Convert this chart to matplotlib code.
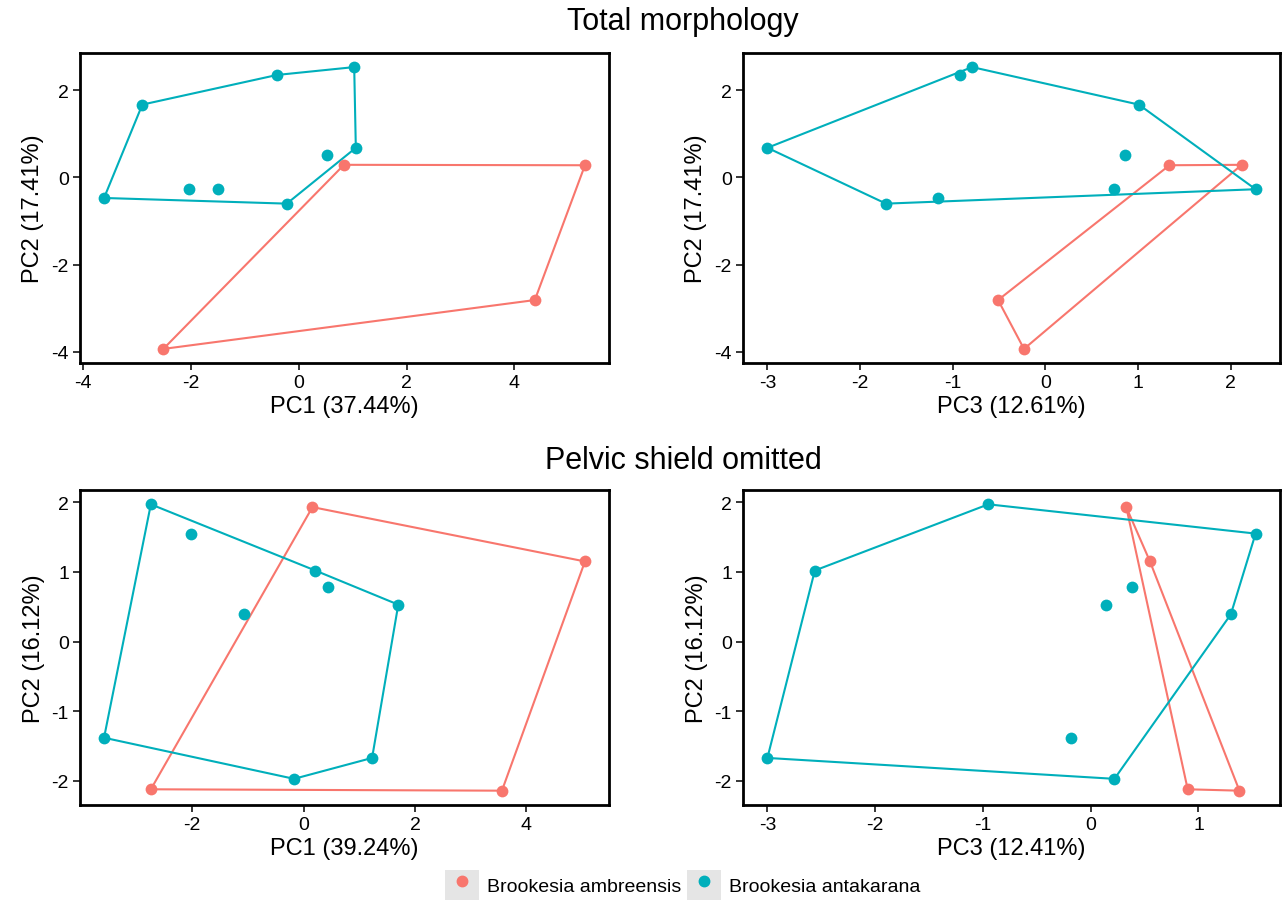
"""
PCA convex hull plots, Brookesia morphology
"""

import matplotlib
matplotlib.use('Agg')
import matplotlib.pyplot as plt
from matplotlib.lines import Line2D
from matplotlib.patches import Patch
from matplotlib.legend_handler import HandlerTuple

plt.rcParams['font.family'] = ['Liberation Sans', 'DejaVu Sans']

species = ['Brookesia ambreensis', 'Brookesia antakarana']
colours = ['#F8766D', '#00AFBB']

# total morphology scores
total_amb_pc1 = [0.84, 5.31, 4.38, -2.51]
total_amb_pc2 = [0.29, 0.28, -2.81, -3.93]
total_amb_pc3 = [2.12, 1.34, -0.51, -0.23]

total_ant_pc1 = [1.03, -0.40, -2.90, 1.06, 0.53, -2.04, -1.49, -3.61, -0.22]
total_ant_pc2 = [2.53, 2.35, 1.67, 0.68, 0.51, -0.27, -0.26, -0.47, -0.60]
total_ant_pc3 = [-0.79, -0.92, 1.01, -3.00, 0.86, 2.27, 0.74, -1.16, -1.72]

# pelvic shield omitted
pelvic_amb_pc1 = [0.16, 5.05, -2.74, 3.56]
pelvic_amb_pc2 = [1.93, 1.15, -2.12, -2.14]
pelvic_amb_pc3 = [0.33, 0.55, 0.90, 1.38]

pelvic_ant_pc1 = [-2.74, -2.02, 0.21, 0.43, 1.70, -1.07, -3.58, 1.23, -0.17]
pelvic_ant_pc2 = [1.97, 1.55, 1.02, 0.79, 0.53, 0.39, -1.38, -1.67, -1.97]
pelvic_ant_pc3 = [-0.95, 1.53, -2.56, 0.38, 0.14, 1.30, -0.18, -3.00, 0.22]

W, H = 1282, 903


def hull(xs, ys):
    """monotone chain convex hull, returns closed polygon"""
    pts = sorted(set(zip(xs, ys)))

    def cross(o, a, b):
        return (a[0] - o[0]) * (b[1] - o[1]) - (a[1] - o[1]) * (b[0] - o[0])

    lower, upper = [], []
    for p in pts:
        while len(lower) >= 2 and cross(lower[-2], lower[-1], p) <= 0:
            lower.pop()
        lower.append(p)
    for p in reversed(pts):
        while len(upper) >= 2 and cross(upper[-2], upper[-1], p) <= 0:
            upper.pop()
        upper.append(p)
    poly = lower[:-1] + upper[:-1]
    poly.append(poly[0])
    return [p[0] for p in poly], [p[1] for p in poly]


def add_axes(fig, left, top, right, bottom):
    return fig.add_axes([left / W, 1 - bottom / H, (right - left) / W, (bottom - top) / H])


def panel(ax, groups, xlabel, ylabel, xticks, yticks):
    for (xs, ys), col in zip(groups, colours):
        ax.scatter(xs, ys, s=72, color=col, zorder=3, linewidths=0)
    for (xs, ys), col in zip(groups, colours):
        hx, hy = hull(xs, ys)
        ax.plot(hx, hy, color=col, linewidth=1.5, zorder=2)
    ax.set_xticks(xticks)
    ax.set_yticks(yticks)
    ax.set_xticklabels([str(t) for t in xticks])
    ax.set_yticklabels([str(t) for t in yticks])
    ax.tick_params(direction='out', length=5, width=1.1, labelsize=14, color='black', pad=3)
    for s in ax.spines.values():
        s.set_linewidth(2)
    ax.set_xlabel(xlabel, fontsize=17, labelpad=3)
    ax.set_ylabel(ylabel, fontsize=17, labelpad=5)


fig = plt.figure(figsize=(W / 100, H / 100), dpi=100)

ax1 = add_axes(fig, 80, 54, 609, 364)
panel(ax1, [(total_amb_pc1, total_amb_pc2), (total_ant_pc1, total_ant_pc2)],
      'PC1 (37.44%)', 'PC2 (17.41%)', [-4, -2, 0, 2, 4], [-4, -2, 0, 2])

ax2 = add_axes(fig, 743, 54, 1280, 364)
panel(ax2, [(total_amb_pc3, total_amb_pc2), (total_ant_pc3, total_ant_pc2)],
      'PC3 (12.61%)', 'PC2 (17.41%)', [-3, -2, -1, 0, 1, 2], [-4, -2, 0, 2])

ax3 = add_axes(fig, 80, 491, 609, 806)
panel(ax3, [(pelvic_amb_pc1, pelvic_amb_pc2), (pelvic_ant_pc1, pelvic_ant_pc2)],
      'PC1 (39.24%)', 'PC2 (16.12%)', [-2, 0, 2, 4], [-2, -1, 0, 1, 2])

ax4 = add_axes(fig, 743, 491, 1280, 806)
panel(ax4, [(pelvic_amb_pc3, pelvic_amb_pc2), (pelvic_ant_pc3, pelvic_ant_pc2)],
      'PC3 (12.41%)', 'PC2 (16.12%)', [-3, -2, -1, 0, 1], [-2, -1, 0, 1, 2])

fig.text(683 / W, 1 - 22 / H, 'Total morphology', ha='center', va='center', fontsize=22)
fig.text(683 / W, 1 - 461 / H, 'Pelvic shield omitted', ha='center', va='center', fontsize=22)

handles = [(Patch(facecolor='#E5E5E5', edgecolor='none'),
            Line2D([], [], marker='o', markersize=7.5, color=c, linestyle='none'))
           for c in colours]
fig.legend(handles, species, loc='center', bbox_to_anchor=(683 / W, 1 - 886 / H),
           ncol=2, frameon=False, fontsize=14, handler_map={tuple: HandlerTuple(ndivide=1)},
           handlelength=1.75, handleheight=1.95, handletextpad=0.4, columnspacing=0.3,
           borderaxespad=0)

plt.savefig('out.png', dpi=100)
